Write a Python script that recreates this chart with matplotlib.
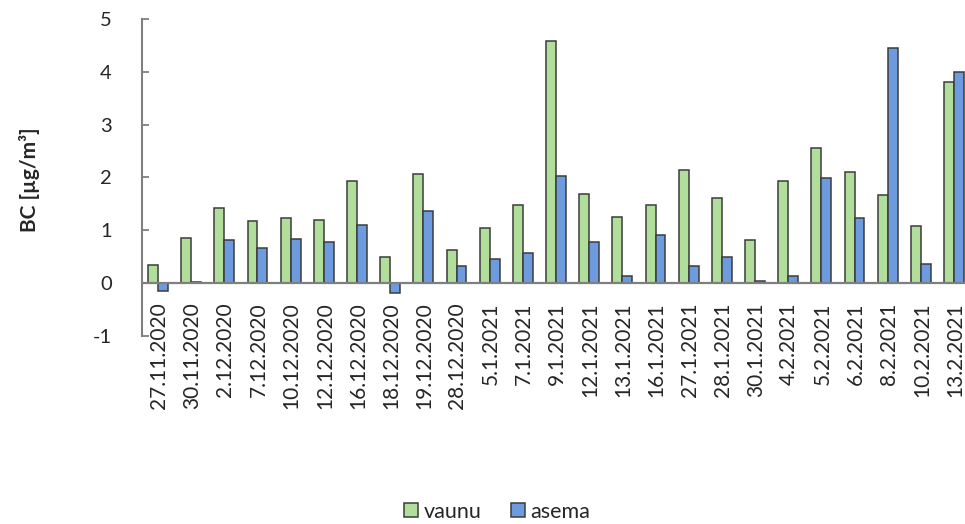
import matplotlib
matplotlib.use("Agg")
import matplotlib.pyplot as plt
import numpy as np
from matplotlib.lines import Line2D

plt.rcParams['font.family'] = ['Lato', 'DejaVu Sans']

dates = ["27.11.2020", "30.11.2020", "2.12.2020", "7.12.2020", "10.12.2020",
         "12.12.2020", "16.12.2020", "18.12.2020", "19.12.2020", "28.12.2020",
         "5.1.2021", "7.1.2021", "9.1.2021", "12.1.2021", "13.1.2021",
         "16.1.2021", "27.1.2021", "28.1.2021", "30.1.2021", "4.2.2021",
         "5.2.2021", "6.2.2021", "8.2.2021", "10.2.2021", "13.2.2021"]
vaunu = [0.35, 0.85, 1.42, 1.18, 1.23, 1.20, 1.94, 0.50, 2.07, 0.62,
         1.05, 1.48, 4.58, 1.68, 1.25, 1.48, 2.15, 1.61, 0.81, 1.94,
         2.55, 2.11, 1.66, 1.09, 3.80]
asema = [-0.14, 0.03, 0.82, 0.66, 0.84, 0.78, 1.10, -0.19, 1.36, 0.33,
         0.45, 0.57, 2.02, 0.78, 0.14, 0.91, 0.33, 0.50, 0.05, 0.14,
         1.99, 1.24, 4.46, 0.36, 4.00]

green = "#B2DE9B"
blue = "#6E9BDD"
edge = "#3C3C3C"
text_col = "#262626"

W, H = 965, 524
fig = plt.figure(figsize=(W / 100, H / 100), dpi=100)
left_px, right_px = 142.4, 971.6
top_px, bot_px = 19, 336
ax = fig.add_axes([left_px / W, 1 - bot_px / H,
                   (right_px - left_px) / W, (bot_px - top_px) / H])

x = np.arange(len(dates))
bw = 0.30
ax.bar(x - bw / 2 - 0.03, vaunu, bw, color=green, edgecolor=edge, linewidth=1.1, zorder=3)
ax.bar(x + bw / 2 - 0.03, asema, bw, color=blue, edgecolor=edge, linewidth=1.1, zorder=3)

ax.set_xlim(-0.5, len(dates) - 0.5)
ax.set_ylim(-1, 5)
ax.set_yticks(range(-1, 6))
ax.set_yticklabels([str(v) for v in range(-1, 6)], fontsize=14.5, color=text_col)
ax.tick_params(axis='y', direction='in', length=5, width=1.3, color="#7F7F7F", pad=22)

ax.axhline(0, color="#7F7F7F", lw=1.6, zorder=4)

for s in ['top', 'right', 'bottom']:
    ax.spines[s].set_visible(False)
ax.spines['left'].set_color("#7F7F7F")
ax.spines['left'].set_linewidth(1.5)

ax.set_xticks([])
for xi, lab in zip(x, dates):
    ax.annotate(lab, xy=(xi, 0), xycoords='data', xytext=(0, -19),
                textcoords='offset pixels', rotation=90, ha='center', va='top',
                fontsize=15, color=text_col)

fig.text(30 / W, 1 - 180 / H, "BC [µg/m³]", rotation=90, ha='center', va='center',
         fontsize=15, fontweight='bold', color=text_col)

handles = [Line2D([], [], linestyle='none', marker='s', markersize=9.5,
                  markerfacecolor=green, markeredgecolor=edge, markeredgewidth=1.1,
                  label="vaunu"),
           Line2D([], [], linestyle='none', marker='s', markersize=9.5,
                  markerfacecolor=blue, markeredgecolor=edge, markeredgewidth=1.1,
                  label="asema")]
fig.legend(handles=handles, loc='center', bbox_to_anchor=(497 / W, 1 - 512 / H),
           ncol=2, frameon=False, fontsize=15.5, handlelength=0.7,
           handletextpad=0.25, columnspacing=1.3, labelcolor=text_col)

fig.savefig("out.png", dpi=100)
